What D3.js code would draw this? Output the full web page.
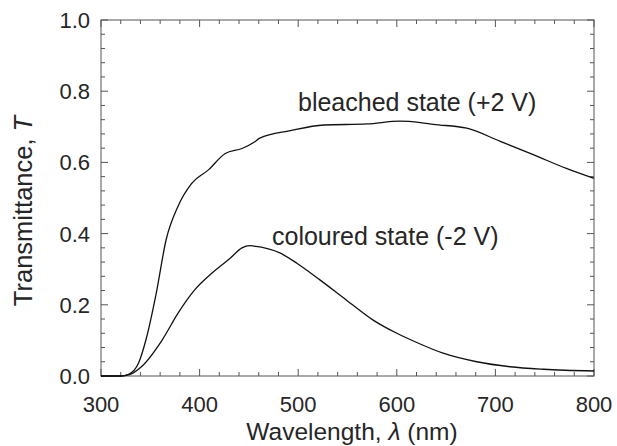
<!DOCTYPE html>
<html>
<head>
<meta charset="utf-8">
<script src="https://cdn.jsdelivr.net/npm/d3@7"></script>
<style>
  body { margin: 0; background: #fff; }
  text { font-family: "Liberation Sans", Arial, sans-serif; fill: #262626; }
</style>
</head>
<body>
<div id="chart"></div>
<script>
// values
const bleachedWl = [300, 320, 328, 338, 346, 356, 366, 378, 392, 409, 426, 443, 456, 461, 492, 526, 570, 603, 624, 637, 671, 705, 739, 772, 800];
const bleachedT = [0, 0, 0.005, 0.036, 0.106, 0.232, 0.382, 0.476, 0.541, 0.579, 0.625, 0.639, 0.658, 0.668, 0.689, 0.705, 0.708, 0.716, 0.712, 0.707, 0.696, 0.659, 0.621, 0.583, 0.555];
const colouredWl = [300, 320, 328, 341, 362, 378, 395, 412, 431, 443, 451, 455, 482, 499, 522, 549, 576, 600, 622, 647, 681, 715, 749, 800];
const colouredT = [0, 0, 0.003, 0.026, 0.101, 0.176, 0.242, 0.288, 0.331, 0.36, 0.366, 0.365, 0.345, 0.316, 0.27, 0.213, 0.157, 0.12, 0.092, 0.064, 0.04, 0.026, 0.019, 0.014];
const xTicks = [300, 400, 500, 600, 700, 800];
const yTicks = [0, 0.2, 0.4, 0.6, 0.8, 1.0];

const width = 617, height = 446;
const margin = {top: 20, right: 23, bottom: 70, left: 101};

const svg = d3.select('#chart').append('svg')
  .attr('width', width)
  .attr('height', height);

const x = d3.scaleLinear().domain([300, 800]).range([margin.left, width - margin.right]);
const y = d3.scaleLinear().domain([0, 1]).range([height - margin.bottom, margin.top]);

const x0 = margin.left, x1 = width - margin.right;
const y0 = height - margin.bottom, y1 = margin.top;

// minor + major ticks, inside, on all four sides
const xMinor = d3.range(300, 801, 20);
const yMinor = d3.range(0, 1.0001, 0.04);
const tk = svg.append('g').attr('stroke', '#555').attr('stroke-width', 1);
xMinor.forEach(v => {
  const major = xTicks.some(t => Math.abs(t - v) < 1e-6);
  const len = major ? 7 : 4;
  tk.append('line').attr('x1', x(v)).attr('x2', x(v)).attr('y1', y0).attr('y2', y0 - len);
  tk.append('line').attr('x1', x(v)).attr('x2', x(v)).attr('y1', y1).attr('y2', y1 + len);
});
yMinor.forEach(v => {
  const major = yTicks.some(t => Math.abs(t - v) < 1e-6);
  const len = major ? 7 : 4;
  tk.append('line').attr('x1', x0).attr('x2', x0 + len).attr('y1', y(v)).attr('y2', y(v));
  tk.append('line').attr('x1', x1).attr('x2', x1 - len).attr('y1', y(v)).attr('y2', y(v));
});

// frame
svg.append('rect')
  .attr('x', x0).attr('y', y1)
  .attr('width', x1 - x0).attr('height', y0 - y1)
  .attr('fill', 'none').attr('stroke', '#555').attr('stroke-width', 1);

// tick labels
svg.append('g').selectAll('text')
  .data(xTicks).enter().append('text')
  .attr('x', d => x(d)).attr('y', 412)
  .attr('text-anchor', 'middle')
  .style('font-size', '22px')
  .text(d => d);
svg.append('g').selectAll('text')
  .data(yTicks).enter().append('text')
  .attr('x', 90).attr('y', d => y(d) + 8)
  .attr('text-anchor', 'end')
  .style('font-size', '22px')
  .text(d => d.toFixed(1));

// curves
const line = d3.line().x(d => x(d[0])).y(d => y(d[1])).curve(d3.curveMonotoneX);
svg.append('path')
  .datum(bleachedWl.map((w, i) => [w, bleachedT[i]]))
  .attr('d', line).attr('fill', 'none').attr('stroke', '#111').attr('stroke-width', 1.3);
svg.append('path')
  .datum(colouredWl.map((w, i) => [w, colouredT[i]]))
  .attr('d', line).attr('fill', 'none').attr('stroke', '#111').attr('stroke-width', 1.3);

// curve labels
svg.append('text').attr('x', 298).attr('y', 111)
  .style('font-size', '25px').text('bleached state (+2 V)');
svg.append('text').attr('x', 272).attr('y', 245)
  .style('font-size', '25px').text('coloured state (-2 V)');

// axis titles
const xt = svg.append('text').attr('x', 352).attr('y', 440)
  .attr('text-anchor', 'middle').style('font-size', '24.5px');
xt.append('tspan').text('Wavelength, ');
xt.append('tspan').style('font-style', 'italic').text('λ');
xt.append('tspan').text(' (nm)');

const yt = svg.append('text')
  .attr('transform', 'translate(32,211) rotate(-90)')
  .attr('text-anchor', 'middle').style('font-size', '25.5px');
yt.append('tspan').text('Transmittance, ');
yt.append('tspan').style('font-style', 'italic').text('T');
</script>
</body>
</html>
